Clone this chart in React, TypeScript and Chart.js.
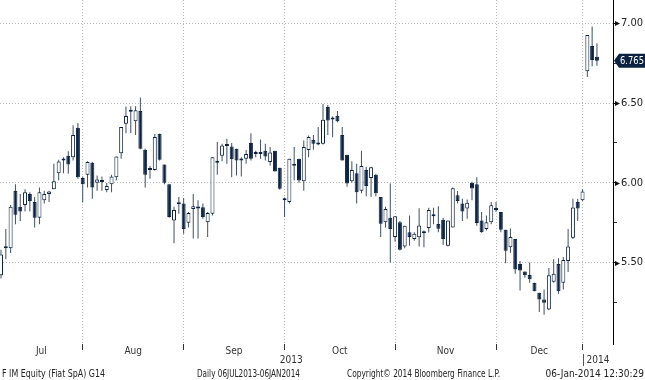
import React, { useEffect, useRef } from 'react';
import { Chart, registerables } from 'chart.js';

Chart.register(...registerables);

// ---- data (trading-day index 0 = 08-Jul-2013 ... 124 = 06-Jan-2014) ----
const months = ['Jul', 'Aug', 'Sep', 'Oct', 'Nov', 'Dec'];
const monthEnds = [17, 38, 59, 82, 103, 121]; // index of last trading day of each month
const years = ['2013', '2014'];

const opens = [
  5.42, 5.59, 5.59, 5.95, 5.85, 5.86, 5.93, 5.88, 5.78, 5.89, 5.93, 5.96, 6.06, 6.15, 6.17, 6.16, 6.345, 6.03,
  6.05, 6.125, 6.0, 6.01, 5.955, 5.99, 6.035, 6.185, 6.37, 6.45, 6.385, 6.45, 6.207, 6.085, 6.08, 6.307, 6.115, 5.99, 5.764, 5.87, 5.87,
  5.75, 5.835, 5.845, 5.847, 5.753, 5.805, 6.13, 6.17, 6.235, 6.228, 6.213, 6.14, 6.15, 6.25, 6.185, 6.185, 6.2, 6.13, 6.2, 6.094, 5.895,
  5.88, 6.11, 6.15, 6.01, 6.205, 6.27, 6.245, 6.245, 6.475, 6.4, 6.42, 6.3, 6.176, 6.01, 6.06, 5.95, 6.08, 6.03, 6.05, 5.91, 5.753, 5.78, 5.66,
  5.753, 5.6, 5.69, 5.648, 5.658, 5.685, 5.717, 5.8, 5.742, 5.768, 5.605, 5.72, 5.922, 5.87, 5.838, 6.0, 5.99, 5.764, 5.71, 5.753, 5.833,
  5.816, 5.705, 5.595, 5.648, 5.49, 5.443, 5.422, 5.373, 5.31, 5.268, 5.205, 5.38, 5.49, 5.373, 5.51, 5.655, 5.88, 5.89,
  6.7, 6.858, 6.79,
];
const highs = [
  5.58, 5.71, 5.86, 5.99, 5.93, 5.96, 5.94, 5.91, 5.97, 5.95, 5.95, 6.12, 6.144, 6.16, 6.197, 6.36, 6.375, 6.04,
  6.135, 6.13, 6.045, 6.04, 5.998, 6.05, 6.165, 6.35, 6.478, 6.48, 6.48, 6.535, 6.213, 6.105, 6.305, 6.307, 6.115, 5.99, 5.85, 5.91, 5.905,
  5.816, 5.93, 5.89, 5.87, 5.816, 6.16, 6.255, 6.245, 6.276, 6.25, 6.213, 6.16, 6.205, 6.31, 6.2, 6.272, 6.245, 6.225, 6.2, 6.094, 5.908,
  6.15, 6.225, 6.15, 6.265, 6.297, 6.3, 6.35, 6.494, 6.488, 6.415, 6.45, 6.35, 6.176, 6.135, 6.12, 6.2, 6.1, 6.1, 6.055, 5.91, 5.85, 5.995, 5.79,
  5.76, 5.73, 5.795, 5.69, 5.84, 5.7, 5.844, 5.844, 5.852, 5.78, 5.764, 5.97, 5.949, 5.9, 5.895, 6.006, 6.034, 5.816, 5.795, 5.88, 5.88,
  5.816, 5.705, 5.714, 5.648, 5.51, 5.443, 5.5, 5.373, 5.31, 5.33, 5.465, 5.52, 5.527, 5.535, 5.71, 5.9, 5.9, 5.96,
  6.927, 6.98, 6.875,
];
const lows = [
  5.4, 5.52, 5.56, 5.74, 5.76, 5.82, 5.82, 5.72, 5.74, 5.87, 5.88, 5.96, 6.015, 6.06, 6.056, 6.14, 6.025, 5.877,
  5.97, 5.9, 5.95, 5.95, 5.94, 5.94, 6.015, 6.15, 6.31, 6.31, 6.3, 6.21, 5.97, 6.025, 6.077, 6.14, 5.99, 5.78, 5.62, 5.805, 5.68,
  5.72, 5.65, 5.65, 5.775, 5.66, 5.795, 6.05, 6.135, 6.12, 6.035, 6.046, 6.04, 6.12, 6.14, 6.16, 6.15, 6.14, 6.108, 6.07, 5.956, 5.785,
  5.87, 6.015, 6.0, 5.95, 6.16, 6.207, 6.235, 6.24, 6.3, 6.285, 6.38, 6.14, 5.975, 6.0, 5.87, 5.935, 5.915, 5.91, 5.915, 5.66, 5.72, 5.5, 5.63,
  5.575, 5.59, 5.605, 5.637, 5.6, 5.595, 5.688, 5.74, 5.69, 5.61, 5.6, 5.72, 5.87, 5.76, 5.774, 5.89, 5.73, 5.687, 5.7, 5.74, 5.816,
  5.69, 5.496, 5.56, 5.43, 5.325, 5.405, 5.373, 5.32, 5.19, 5.173, 5.2, 5.373, 5.304, 5.33, 5.44, 5.648, 5.76, 5.885,
  6.663, 6.73, 6.733,
];
const closes = [
  5.55, 5.6, 5.85, 5.8, 5.82, 5.94, 5.885, 5.78, 5.94, 5.93, 5.945, 6.01, 6.134, 6.14, 6.115, 6.3, 6.035, 5.99,
  6.13, 5.97, 6.02, 6.005, 5.98, 6.04, 6.165, 6.35, 6.418, 6.445, 6.454, 6.213, 6.05, 6.08, 6.287, 6.144, 6.0, 5.785, 5.83, 5.865, 5.71,
  5.81, 5.852, 5.838, 5.785, 5.81, 6.16, 6.125, 6.234, 6.23, 6.148, 6.14, 6.152, 6.18, 6.15, 6.18, 6.18, 6.165, 6.19, 6.07, 5.962, 5.89,
  6.15, 6.106, 6.014, 6.225, 6.287, 6.245, 6.24, 6.395, 6.39, 6.397, 6.386, 6.14, 5.995, 6.08, 5.94, 6.105, 5.98, 6.097, 5.935, 5.743, 5.836, 5.71, 5.79,
  5.58, 5.73, 5.66, 5.68, 5.732, 5.683, 5.83, 5.79, 5.711, 5.648, 5.764, 5.965, 5.886, 5.82, 5.875, 5.964, 5.747, 5.69, 5.753, 5.859, 5.83,
  5.705, 5.574, 5.66, 5.456, 5.45, 5.42, 5.395, 5.32, 5.268, 5.247, 5.42, 5.43, 5.32, 5.515, 5.6, 5.845, 5.838, 5.945,
  6.927, 6.77, 6.765,
];

const yTicks = [5.25, 5.5, 5.75, 6.0, 6.25, 6.5, 6.75, 7.0];
const footerTexts = [
  'F IM Equity (Fiat SpA) G14',
  'Daily 06JUL2013-06JAN2014',
  'Copyright\u00A9 2014 Bloomberg Finance L.P.',
  '06-Jan-2014 12:30:29',
];

// ---- styling ----
const FONT = "'Liberation Sans Narrow', 'DejaVu Sans Condensed', 'Arial Narrow', 'Liberation Sans', sans-serif";
const NAVY = '#0c2240';
const WICK = '#3e4f66';
const GRID = '#b8b8b8';
const X_MIN = -0.21;
const X_MAX = 127.34;
const Y_MIN = 4.989;
const Y_MAX = 7.146;

const isHalf = (v: number) => Math.abs(v * 2 - Math.round(v * 2)) < 1e-6;

export default function App() {
  const ref = useRef<HTMLCanvasElement>(null);

  useEffect(() => {
    const idx = closes.map((_, i) => i);
    const bounds = [X_MIN, ...monthEnds];
    const monthMids = months.map((_, k) => (bounds[k] + bounds[k + 1]) / 2);

    const extras = {
      id: 'extras',
      afterDraw(chart: any) {
        const { ctx, chartArea } = chart;
        const xs = chart.scales.x;
        const ys = chart.scales.y;
        ctx.save();
        // arrow heads on labelled y ticks
        ctx.fillStyle = '#111';
        yTicks.filter(isHalf).forEach((v) => {
          const py = Math.round(ys.getPixelForValue(v)) + 0.5;
          ctx.beginPath();
          ctx.moveTo(chartArea.right + 2, py - 2.5);
          ctx.lineTo(chartArea.right + 7, py);
          ctx.lineTo(chartArea.right + 2, py + 2.5);
          ctx.closePath();
          ctx.fill();
        });
        // last price tag
        const last = closes[closes.length - 1];
        const py = ys.getPixelForValue(last);
        const ax = chartArea.right + 1;
        ctx.fillStyle = NAVY;
        ctx.beginPath();
        ctx.moveTo(ax, py);
        ctx.lineTo(ax + 5, py - 7);
        ctx.lineTo(645, py - 7);
        ctx.lineTo(645, py + 7);
        ctx.lineTo(ax + 5, py + 7);
        ctx.closePath();
        ctx.fill();
        ctx.fillStyle = '#ffffff';
        ctx.font = `11px ${FONT}`;
        ctx.textBaseline = 'middle';
        ctx.textAlign = 'left';
        ctx.fillText(last.toFixed(3), ax + 6, py + 0.5, 24);

        // year row
        ctx.fillStyle = '#333';
        ctx.font = `10px ${FONT}`;
        const yearSplit = xs.getPixelForValue(monthEnds[monthEnds.length - 1]);
        const y2013 = (xs.getPixelForValue(X_MIN) + yearSplit) / 2;
        ctx.textAlign = 'center';
        ctx.fillText(years[0], y2013, 360);
        ctx.strokeStyle = '#555';
        ctx.lineWidth = 1;
        ctx.beginPath();
        ctx.moveTo(Math.round(yearSplit) + 0.5, 354);
        ctx.lineTo(Math.round(yearSplit) + 0.5, 366);
        ctx.stroke();
        ctx.textAlign = 'left';
        ctx.fillText(years[1], yearSplit + 4, 360);

        // footer
        ctx.fillStyle = '#222';
        ctx.textAlign = 'left';
        ctx.fillText(footerTexts[0], 2, 374, 103);
        ctx.fillText(footerTexts[1], 197, 374, 103);
        ctx.fillText(footerTexts[2], 347, 374, 153);
        ctx.textAlign = 'right';
        ctx.fillText(footerTexts[3], 644, 374, 103);
        ctx.restore();
      },
    };

    const chart = new Chart(ref.current as HTMLCanvasElement, {
      type: 'bar',
      data: {
        datasets: [
          {
            label: 'range',
            data: idx.map((i) => ({ x: i, y: [lows[i], highs[i]] })) as any,
            backgroundColor: WICK,
            borderWidth: 0,
            barThickness: 1,
            grouped: false,
            order: 2,
            inflateAmount: 0,
          } as any,
          {
            label: 'body',
            data: idx.map((i) => ({ x: i, y: [opens[i], closes[i]] })) as any,
            backgroundColor: idx.map((i) => (closes[i] >= opens[i] ? '#ffffff' : NAVY)),
            borderColor: NAVY,
            borderWidth: 1,
            borderSkipped: false,
            barThickness: 4,
            minBarLength: 2,
            grouped: false,
            order: 1,
            inflateAmount: 0,
          } as any,
        ],
      },
      options: {
        animation: false,
        responsive: false,
        events: [],
        layout: { padding: 0 },
        plugins: { legend: { display: false }, tooltip: { enabled: false }, title: { display: false } },
        scales: {
          x: {
            type: 'linear',
            position: 'bottom',
            min: X_MIN,
            max: X_MAX,
            offset: false,
            afterBuildTicks: (s: any) => {
              const t = [
                ...monthEnds.map((v) => ({ value: v, isEnd: true })),
                ...monthMids.map((v, k) => ({ value: v, isEnd: false, name: months[k] })),
              ];
              t.sort((a, b) => a.value - b.value);
              s.ticks = t;
            },
            afterFit: (s: any) => {
              s.height = 36;
              s.paddingLeft = 0;
              s.paddingRight = 0;
            },
            grid: {
              offset: false,
              color: (c: any) => (c.tick && c.tick.isEnd ? GRID : 'rgba(0,0,0,0)'),
              tickColor: (c: any) => (c.tick && c.tick.isEnd ? '#333' : 'rgba(0,0,0,0)'),
              tickLength: 6,
              lineWidth: 1,
            },
            border: { display: false, dash: [1, 2] },
            ticks: {
              autoSkip: false,
              maxRotation: 0,
              minRotation: 0,
              padding: -5,
              color: '#333',
              font: { family: FONT, size: 10 },
              callback: function (this: any, _v: any, i: number) {
                const t = this.ticks[i];
                return t && !t.isEnd ? t.name : '';
              },
            },
          },
          y: {
            type: 'linear',
            position: 'right',
            min: Y_MIN,
            max: Y_MAX,
            beginAtZero: false,
            afterBuildTicks: (s: any) => {
              s.ticks = yTicks.map((v) => ({ value: v }));
            },
            afterFit: (s: any) => {
              s.width = 32;
              s.paddingTop = 0;
              s.paddingBottom = 0;
            },
            grid: {
              color: (c: any) => (c.tick && isHalf(c.tick.value) ? GRID : 'rgba(0,0,0,0)'),
              tickColor: (c: any) => (c.tick && isHalf(c.tick.value) ? '#111' : '#333'),
              tickLength: 4,
              lineWidth: 1,
            },
            border: { display: true, color: '#000', width: 1, dash: [1, 2] },
            ticks: {
              autoSkip: false,
              padding: 4,
              color: '#222',
              font: { family: FONT, size: 11 },
              callback: (v: any) => (isHalf(Number(v)) ? Number(v).toFixed(2) : ''),
            },
          },
        },
      },
      plugins: [extras],
    } as any);

    return () => chart.destroy();
  }, []);

  return (
    <div style={{ position: 'absolute', left: 0, top: 0, width: 645, height: 380, background: '#fff' }}>
      <canvas ref={ref} width={645} height={380} style={{ display: 'block' }} />
    </div>
  );
}
